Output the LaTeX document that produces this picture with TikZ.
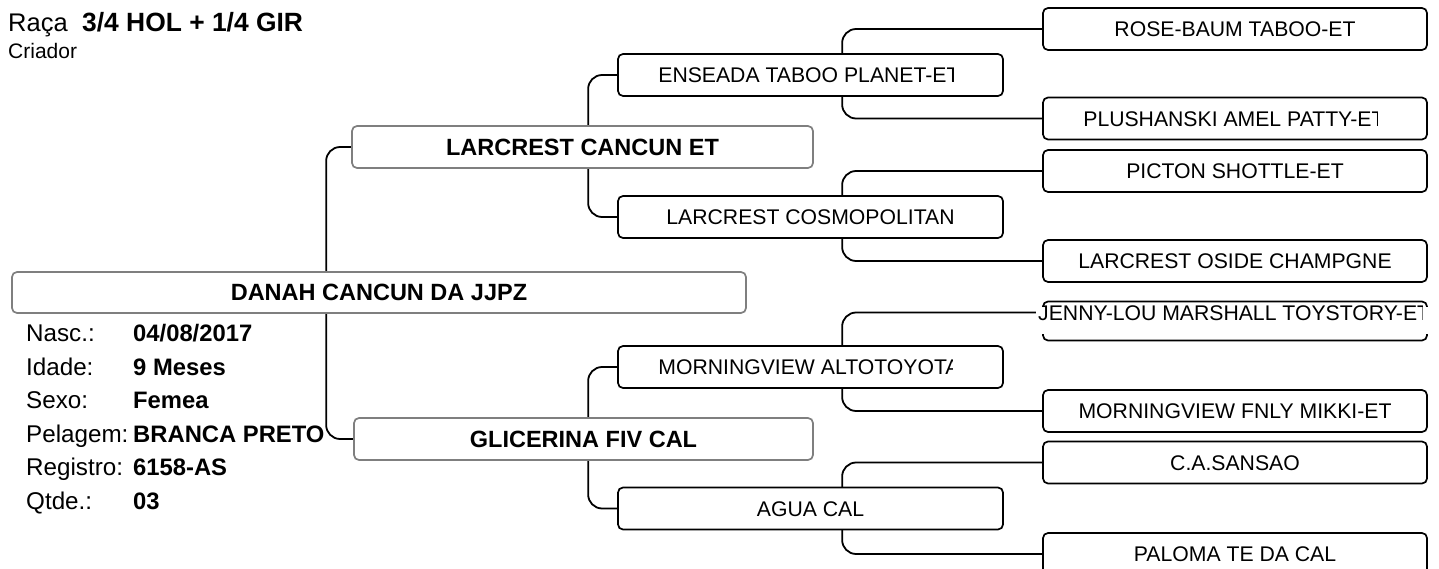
\documentclass[tikz,border=0pt]{standalone}
\usepackage{fontspec}
\setmainfont{Liberation Sans}
\usetikzlibrary{backgrounds}
\definecolor{boxgray}{HTML}{7F7F7F}
\newcommand{\fsreg}{\fontsize{21.2}{25}\selectfont}
\newcommand{\fsbold}{\fontsize{23.5}{28}\selectfont\bfseries}
\newcommand{\fsdet}{\fontsize{24.2}{28}\selectfont}
\newcommand{\fsdetb}{\fontsize{23.8}{28}\selectfont\bfseries}
% #1 box node, #2 text node name, #3 clip x, #4 text
\newcommand{\cliplabel}[4]{%
  \begin{scope}
    \clip ([xshift=41pt]#1.south west) rectangle (#3,0 |- #1.north east);
    \node[ctext, anchor=west] (#2) at ([xshift=41pt]#1.west) {#4};
  \end{scope}}
\begin{document}
\begin{tikzpicture}[x=1pt,y=-1pt,
  conn/.style={line width=1.8pt, rounded corners=14pt},
  anc/.style={draw=black, line width=1.7pt, rounded corners=5pt, fill=white, minimum width=384pt, minimum height=42pt, inner sep=0pt, text height=15.2pt, text depth=0pt, font=\fsreg},
  pbox/.style={draw=boxgray, line width=1.7pt, rounded corners=5pt, fill=white, minimum height=42pt, inner sep=0pt, text height=16.8pt, text depth=0pt, font=\fsbold},
  ctext/.style={inner sep=0pt, text height=15.2pt, text depth=0pt, font=\fsreg},
  lab/.style={anchor=base west, inner sep=0pt, font=\fsdet},
  val/.style={anchor=base west, inner sep=0pt, font=\fsdetb},
]
\useasboundingbox (0,0) rectangle (1439,569);
\clip (0,0) rectangle (1439,569);

% title
\node[anchor=base west, inner sep=0pt, font=\fontsize{25.5}{30}\selectfont] (raca) at (8,31.5) {Raça};
\node[anchor=base west, inner sep=0pt, font=\fontsize{26.4}{30}\selectfont\bfseries] (breed) at (82,31.5) {3/4 HOL + 1/4 GIR};
\node[anchor=base west, inner sep=0pt, font=\fontsize{21}{24}\selectfont] (criador) at (8,59) {Criador};

% animal and parents
\node[pbox, minimum width=734pt, minimum height=41pt] (root) at (379,292.5) {DANAH CANCUN DA JJPZ};
\node[pbox, minimum width=461pt] (sire) at (582.5,147) {LARCREST CANCUN ET};
\node[pbox, minimum width=459pt] (dam) at (583.5,439) {GLICERINA FIV CAL};

% grandparents
\node[anc, minimum width=385pt] (ens) at (810.5,75) {};
\cliplabel{ens}{ens-t}{953}{ENSEADA TABOO PLANET-ET}
\node[anc, minimum width=385pt] (cosmo) at (810.5,217) {LARCREST COSMOPOLITAN};
\node[anc, minimum width=385pt] (alto) at (810.5,367) {};
\cliplabel{alto}{alto-t}{952}{MORNINGVIEW ALTOTOYOTA}
\node[anc, minimum width=385pt] (agua) at (810.5,508.5) {AGUA CAL};

% great-grandparents
\node[anc] (rose) at (1235,29) {ROSE-BAUM TABOO-ET};
\node[anc] (plush) at (1235,118.5) {};
\cliplabel{plush}{plush-t}{1377}{PLUSHANSKI AMEL PATTY-ET}
\node[anc] (picton) at (1235,171) {PICTON SHOTTLE-ET};
\node[anc] (oside) at (1235,261) {LARCREST OSIDE CHAMPGNE};
\node[anc, minimum height=39pt] (jenny) at (1235,321) {};
\fill[white] (1036,307) rectangle (1430,334);
\begin{scope}
  \clip (1030,300) rectangle (1422,345);
  \node[ctext, anchor=west] (jenny-t) at (1038,312.5) {JENNY-LOU MARSHALL TOYSTORY-ET};
\end{scope}
\node[anc] (mikki) at (1235,411) {MORNINGVIEW FNLY MIKKI-ET};
\node[anc] (sansao) at (1235,462.5) {C.A.SANSAO};
\node[anc] (paloma) at (1235,554) {PALOMA TE DA CAL};

% details
\node[lab] (l1) at (26,341.5) {Nasc.:};     \node[val] (v1) at (133,341.5) {04/08/2017};
\node[lab] (l2) at (26,375.1) {Idade:};     \node[val] (v2) at (133,375.1) {9 Meses};
\node[lab] (l3) at (26,408.7) {Sexo:};      \node[val] (v3) at (133,408.7) {Femea};
\node[lab] (l4) at (26,442.3) {Pelagem:};   \node[val] (v4) at (133,442.3) {BRANCA PRETO};
\node[lab] (l5) at (26,475.9) {Registro:};  \node[val] (v5) at (133,475.9) {6158-AS};
\node[lab] (l6) at (26,509.5) {Qtde.:};     \node[val] (v6) at (133,509.5) {03};

% connectors
\begin{scope}[on background layer]
  \fill[white] (0,0) rectangle (1439,569);
  \draw[conn] (sire.west) -- ++(-25,0) |- (dam.west);
  \draw[conn] (ens.west) -- ++(-29,0) |- (cosmo.west);
  \draw[conn] (alto.west) -- ++(-29,0) |- (agua.west);
  \draw[conn] (rose.west) -- ++(-200,0) |- (plush.west);
  \draw[conn] (picton.west) -- ++(-200,0) |- (oside.west);
  \draw[conn] (mikki.west) -- ++(-200,0) |- (jenny-t.west);
  \draw[conn] (sansao.west) -- ++(-200,0) |- (paloma.west);
\end{scope}
\end{tikzpicture}
\end{document}
